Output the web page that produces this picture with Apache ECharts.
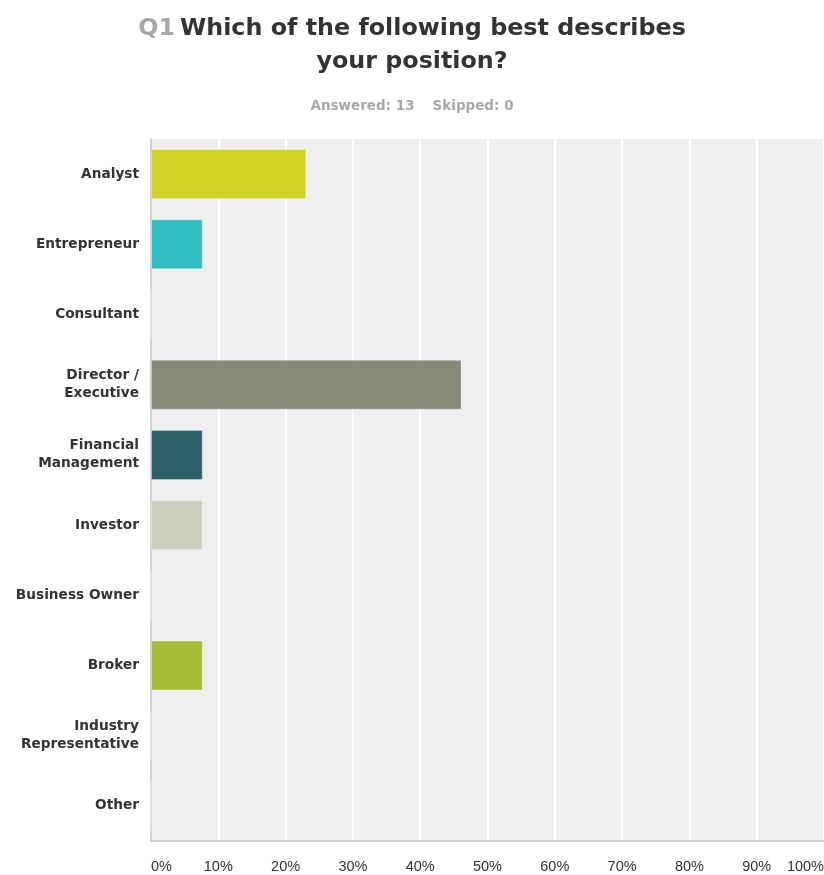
<!DOCTYPE html>
<html>
<head>
<meta charset="utf-8">
<script src="https://cdn.jsdelivr.net/npm/echarts@6/dist/echarts.min.js"></script>
<style>
  html, body { margin: 0; padding: 0; background: #fff; }
  #chart { width: 824px; height: 875px; }
</style>
</head>
<body>
<div id="chart"></div>
<script>
// Survey answer options, top to bottom
const categories = [
  'Analyst',
  'Entrepreneur',
  'Consultant',
  'Director /\nExecutive',
  'Financial\nManagement',
  'Investor',
  'Business Owner',
  'Broker',
  'Industry\nRepresentative',
  'Other'
];

// Share of respondents choosing each option (%)
const shares = [23.08, 7.69, 0, 46.15, 7.69, 7.69, 0, 7.69, 0, 0];

// Fill colour for each option
const barColors = ['#cfd426', '#33bfc1', '#dddddd', '#878a78', '#2e5f6b', '#cfcfc0', '#cccccc', '#a8bd38', '#bbbbbb', '#aaaaaa'];

const answered = 13;
const skipped = 0;

const headFont = 'DejaVu Sans, Verdana, sans-serif';
const tickFont = 'Liberation Sans, Arial, sans-serif';

const chart = echarts.init(document.getElementById('chart'), null, { renderer: 'canvas' });

chart.setOption({
  animation: false,
  backgroundColor: '#ffffff',
  textStyle: { fontFamily: tickFont },
  title: [
    {
      text: '{q|Q1} {t|Which of the following best describes}\n{t|your position?}',
      left: 407,
      top: 7,
      textAlign: 'center',
      textStyle: {
        rich: {
          q: { fontSize: 23.8, fontWeight: 'bold', color: '#a8a8a8', lineHeight: 33, fontFamily: headFont },
          t: { fontSize: 23.8, fontWeight: 'bold', color: '#333333', lineHeight: 33, fontFamily: headFont }
        }
      }
    },
    {
      text: '{a|Answered: ' + answered + '}{g|}{a|Skipped: ' + skipped + '}',
      left: 407,
      top: 92,
      textAlign: 'center',
      textStyle: {
        rich: {
          a: { fontSize: 13.5, fontWeight: 'bold', color: '#a8a8a8', fontFamily: headFont },
          g: { width: 18 }
        }
      }
    }
  ],
  grid: {
    left: 151,
    right: 0,
    top: 139,
    bottom: 34,
    outerBoundsMode: 'none',
    containLabel: false,
    show: true,
    backgroundColor: '#efefef',
    borderWidth: 0
  },
  xAxis: {
    type: 'value',
    min: 0,
    max: 100,
    interval: 10,
    axisLine: { show: true, lineStyle: { color: '#d2d2d2', width: 2 } },
    axisTick: { show: false },
    splitLine: { show: true, lineStyle: { color: '#ffffff', width: 2 } },
    axisLabel: {
      formatter: '{value}%',
      color: '#333333',
      fontSize: 14.5,
      margin: 18,
      alignMinLabel: 'left',
      alignMaxLabel: 'right',
      fontFamily: tickFont
    }
  },
  yAxis: {
    type: 'category',
    data: categories,
    inverse: true,
    axisLine: { show: true, lineStyle: { color: '#d2d2d2', width: 2 } },
    axisTick: { show: false },
    splitLine: { show: false },
    axisLabel: {
      color: '#333333',
      fontSize: 13.7,
      fontWeight: 'bold',
      lineHeight: 18,
      margin: 12,
      fontFamily: headFont
    }
  },
  series: [
    {
      type: 'bar',
      data: shares.map((v, i) => ({
        value: v,
        itemStyle: { color: barColors[i] }
      })),
      barWidth: 50,
      itemStyle: {
        borderColor: 'rgba(255,255,255,0.35)',
        borderWidth: 1
      }
    }
  ]
});
</script>
</body>
</html>
